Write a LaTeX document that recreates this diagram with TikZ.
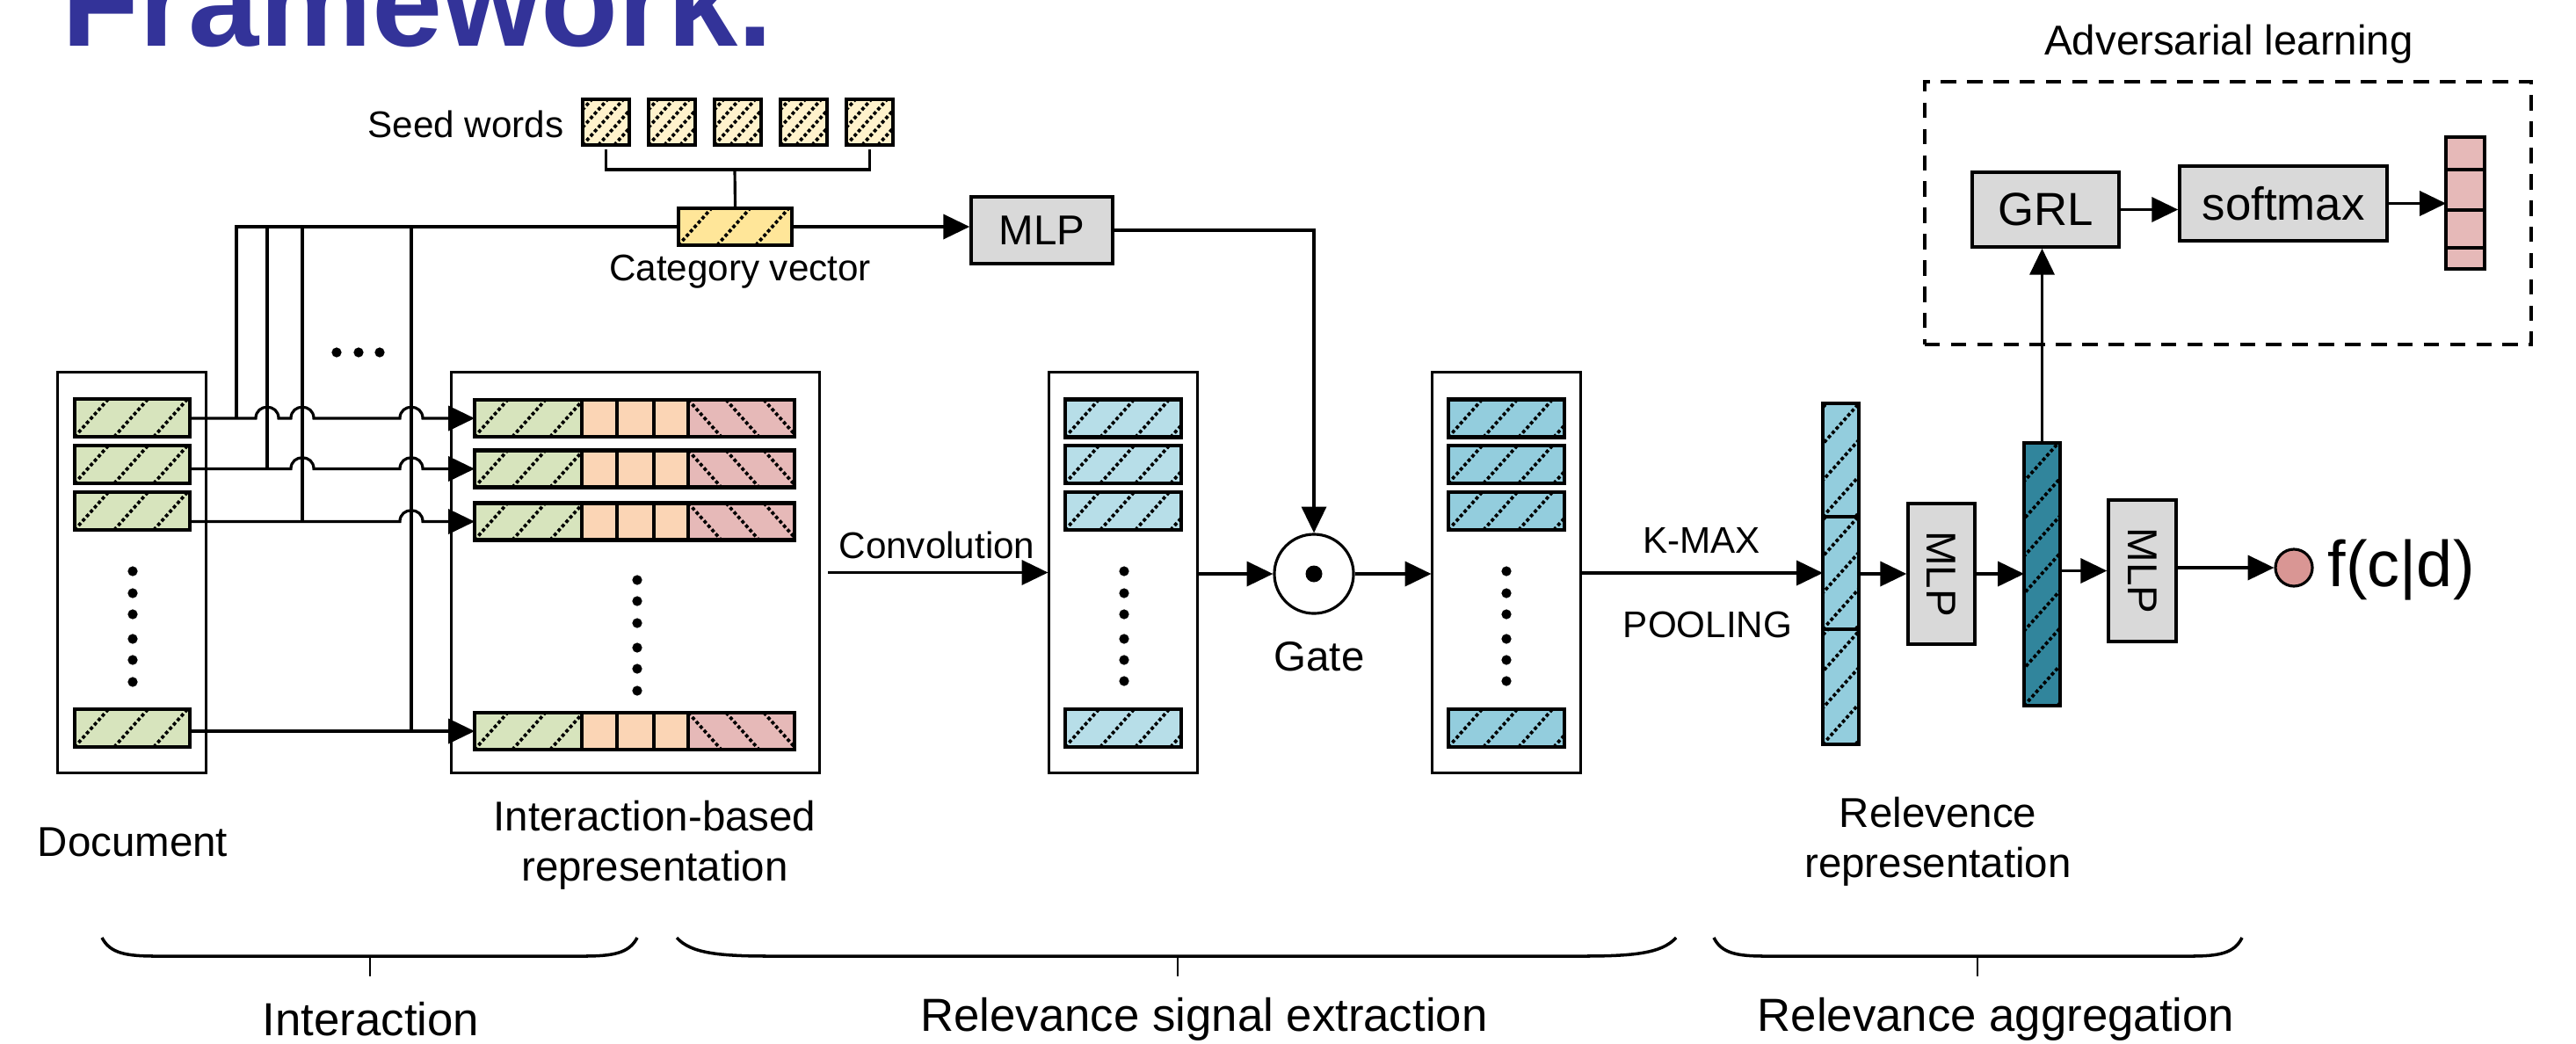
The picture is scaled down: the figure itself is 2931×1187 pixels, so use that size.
\documentclass[tikz,border=0pt]{standalone}
\usepackage{fontspec}
\setmainfont{Liberation Sans}
\usepackage{tikz}
\usetikzlibrary{arrows.meta,positioning}
\definecolor{titleblue}{HTML}{333399}
\definecolor{docgreen}{HTML}{D7E4BD}
\definecolor{cellorange}{HTML}{FBD5B5}
\definecolor{cellpink}{HTML}{E6B9B8}
\definecolor{seedyellow}{HTML}{FFF2CC}
\definecolor{catyellow}{HTML}{FFE699}
\definecolor{convblue}{HTML}{B7DEE8}
\definecolor{gateblue}{HTML}{93CDDD}
\definecolor{deepteal}{HTML}{31859C}
\definecolor{boxgrey}{HTML}{D9D9D9}
\definecolor{scorered}{HTML}{D99694}
\tikzset{
  conn/.style={draw,line width=.9pt},
  arr/.style={conn,-{Triangle[length=8.5pt,width=8pt]}},
  panel/.style={draw,line width=.85pt,fill=white,inner sep=0pt,minimum width=1.68cm,minimum height=4.55cm},
  cell/.style={draw,line width=1.25pt,inner sep=0pt,outer sep=0pt},
  hatchline/.style={line width=1.05pt,dash pattern=on 1.1pt off .8pt},
  hatch/.style={path picture={
    \foreach \k in {-12,...,14}
      \draw[hatchline] ([shift={(\k*#1,0)}]path picture bounding box.south west) -- ++(500,-560);}},
  backhatch/.style={path picture={
    \foreach \k in {-12,...,14}
      \draw[hatchline] ([shift={(\k*#1,0)}]path picture bounding box.north west) -- ++(500,560);}},
  greybox/.style={draw,fill=boxgrey,line width=1pt,inner sep=0pt},
  lbl/.style={font=\fontsize{13.5}{16.2}\selectfont,align=center,inner sep=0pt},
  small/.style={font=\fontsize{12}{14}\selectfont,inner sep=0pt},
  part/.style={font=\fontsize{15}{18}\selectfont,inner sep=0pt},
  brace/.style={draw,line width=1pt}
}

\begin{document}
\begin{tikzpicture}[x=.01cm,y=-.01cm]
  \useasboundingbox (0,0) rectangle (2931,1187);
  \node[anchor=base west,inner sep=0pt,text=titleblue,font=\fontsize{41}{41}\selectfont\bfseries] (title) at (70,52) {Framework.};

  % seed words and category vector
  \foreach \i in {1,...,5}
    \node[cell,fill=seedyellow,hatch=18,minimum width=.53cm,minimum height=.52cm] (sw\i) at (614.5+75*\i,139) {};
  \node[small,anchor=east] (seedlbl) at (642,141) {Seed words};
  \node[cell,fill=catyellow,hatch=44,minimum width=1.29cm,minimum height=.42cm] (cat) at (836.5,258) {};
  \node[small] (catlbl) at (842,309) {Category vector};
  \coordinate (brk) at (836,193);
  \draw[conn] ([yshift=-1.5pt]sw1.south) |- (brk) -| ([yshift=-1.5pt]sw5.south);
  \draw[conn] (brk) -- (cat.north);
  \node[greybox,minimum width=1.61cm,minimum height=.76cm,font=\fontsize{13.5}{16}\selectfont] (mlpA) at (1185.5,262) {MLP};
  \draw[arr] (cat.east) -- (cat.east -| mlpA.west);

  % document
  \node[panel] (doc) at (150,651.5) {};
  \foreach \n/\y in {1/475.5,2/528.5,3/581.5,4/828.5}
    \node[cell,fill=docgreen,hatch=45,minimum width=1.31cm,minimum height=.43cm] (drow\n) at (150.5,\y) {};
  \foreach \y in {650,675,699,727,751,776}
    \fill (151,\y) circle[radius=1.6pt];
  \node[lbl] (doclbl) at (151,958) {Document};

  % interaction-based representation
  \node[panel,minimum width=4.18cm] (ibox) at (723,651.5) {};
  \foreach \n/\y in {1/476,2/533.5,3/593.5,4/832}{
    \node[cell,fill=docgreen,hatch=43,minimum width=1.22cm,minimum height=.42cm,anchor=west] (ig\n) at (540,\y) {};
    \node[cell,fill=cellorange,minimum width=.40cm,minimum height=.42cm,right=0pt of ig\n] (ia\n) {};
    \node[cell,fill=cellorange,minimum width=.42cm,minimum height=.42cm,right=0pt of ia\n] (ib\n) {};
    \node[cell,fill=cellorange,minimum width=.39cm,minimum height=.42cm,right=0pt of ib\n] (ic\n) {};
    \node[cell,fill=cellpink,backhatch=43,minimum width=1.21cm,minimum height=.42cm,right=0pt of ic\n] (ip\n) {};
  }
  \foreach \y in {660,684,709,737,761,786}
    \fill (725,\y) circle[radius=1.6pt];
  \node[lbl] (ilbl) at (745,962) {Interaction-based\\representation};

  % category vector fed to every word
  \coordinate (tap1) at (269,258);
  \coordinate (tap2) at (304,258);
  \coordinate (tap3) at (344,258);
  \coordinate (tap4) at (468,258);
  \draw[conn] (cat.west) -- (tap1) -- (tap1 |- ig1.west);
  \draw[conn] (tap2) -- (tap2 |- ig2.west);
  \draw[conn] (tap3) -- (tap3 |- ig3.west);
  \draw[conn] (tap4) -- (tap4 |- ig4.west);
  \foreach \x in {383,408,432}
    \fill (\x,401) circle[radius=1.6pt];
  \draw[arr] (drow1.east |- ig1.west) -- (291,476) .. controls (291,459) and (317,459) .. (317,476)
    -- (331,476) .. controls (331,459) and (357,459) .. (357,476)
    -- (455,476) .. controls (455,459) and (481,459) .. (481,476) -- (ig1.west);
  \draw[arr] (drow2.east |- ig2.west) -- (331,533.5) .. controls (331,516.5) and (357,516.5) .. (357,533.5)
    -- (455,533.5) .. controls (455,516.5) and (481,516.5) .. (481,533.5) -- (ig2.west);
  \draw[arr] (drow3.east |- ig3.west) -- (455,593.5) .. controls (455,576.5) and (481,576.5) .. (481,593.5) -- (ig3.west);
  \draw[arr] (drow4.east |- ig4.west) -- (ig4.west);

  % convolution and gate
  \node[panel] (conv) at (1278,651.5) {};
  \node[panel] (gbox) at (1714,651.5) {};
  \foreach \n/\y in {1/476,2/528.5,3/581.5,4/828.5}{
    \node[cell,fill=convblue,hatch=40,minimum width=1.32cm,minimum height=.43cm] (crow\n) at (1278,\y) {};
    \node[cell,fill=gateblue,hatch=40,minimum width=1.32cm,minimum height=.43cm] (grow\n) at (1714,\y) {};
  }
  \foreach \y in {650,675,699,727,751,775}{
    \fill (1279,\y) circle[radius=1.6pt];
    \fill (1714,\y) circle[radius=1.6pt];
  }
  \draw[arr] ([xshift=2.5pt]ibox.east) -- (conv.west);
  \node[small] (convlbl) at (1066,620) {Convolution};
  \node[circle,draw,line width=.9pt,minimum size=.9cm,inner sep=0pt] (gate) at (1495,653) {};
  \fill (gate.center) circle[radius=2.7pt];
  \node[lbl] (gatelbl) at (1501,747) {Gate};
  \draw[arr] (conv.east |- gate.west) -- (gate.west);
  \draw[arr] (gate.east) -- (gate.east -| gbox.west);
  \draw[arr] (mlpA.east) -| (gate.north);

  % relevance aggregation
  \node[cell,fill=gateblue,hatch=37,minimum width=.41cm,minimum height=1.29cm] (pool1) at (2094.5,523.5) {};
  \node[cell,fill=gateblue,hatch=37,minimum width=.41cm,minimum height=1.28cm] (pool2) at (2094.5,652) {};
  \node[cell,fill=gateblue,hatch=37,minimum width=.41cm,minimum height=1.31cm] (pool3) at (2094.5,781.5) {};
  \draw[arr] (gbox.east |- pool2.west) -- (pool2.west);
  \node[small] (kmax) at (1936,615) {K-MAX};
  \node[small] (pooling) at (1943,711) {POOLING};
  \node[greybox,minimum width=.76cm,minimum height=1.6cm,font=\fontsize{13.5}{16}\selectfont] (mlpB) at (2209,653) {\rotatebox{-90}{MLP}};
  \node[cell,fill=deepteal,hatch=38,minimum width=.41cm,minimum height=2.99cm] (dark) at (2323.5,653.5) {};
  \node[greybox,minimum width=.77cm,minimum height=1.61cm,font=\fontsize{13.5}{16}\selectfont] (mlpC) at (2437.5,649.5) {\rotatebox{-90}{MLP}};
  \node[circle,draw,fill=scorered,line width=.9pt,minimum size=.42cm,inner sep=0pt] (score) at (2610,646) {};
  \node[anchor=west,inner sep=0pt,font=\fontsize{21}{24}\selectfont] (fcd) at (2648,649) {f(c|d)};
  \draw[arr] (pool2.east |- mlpB.west) -- (mlpB.west);
  \draw[arr] (mlpB.east) -- (mlpB.east -| dark.west);
  \draw[arr] (dark.east |- mlpC.west) -- (mlpC.west);
  \draw[arr] (mlpC.east |- score.west) -- (score.west);
  \node[lbl] (rellbl) at (2205,958) {Relevence\\representation};

  % adversarial learning
  \node[draw,line width=1.15pt,dash pattern=on 5pt off 3.5pt,minimum width=6.9cm,minimum height=2.99cm,inner sep=0pt] (adv) at (2535,242.5) {};
  \node[lbl] (advlbl) at (2536,50) {Adversarial learning};
  \node[greybox,minimum width=1.67cm,minimum height=.85cm,font=\fontsize{15}{18}\selectfont] (grl) at (2327.5,238.5) {GRL};
  \node[greybox,minimum width=2.36cm,minimum height=.85cm,font=\fontsize{15}{18}\selectfont] (smax) at (2598,231.5) {softmax};
  \foreach \n/\y/\h in {1/174.5/.37,2/216/.46,3/260.5/.43,4/294/.24}
    \node[cell,fill=cellpink,minimum width=.44cm,minimum height=\h cm] (oc\n) at (2805,\y) {};
  \draw[arr] (dark.north) -- (dark.north |- grl.south);
  \draw[arr] (grl.east) -- (grl.east -| smax.west);
  \draw[arr] (smax.east) -- (smax.east -| oc2.west);

  % stages
  \foreach \a/\b/\c/\m in {116/725/62/421,770/1907/108/1340,1950/2551/59/2250}{
    \draw[brace] (\a,1067) .. controls (\a+0.15*\c,1085) and (\a+0.45*\c,1088) .. (\a+\c,1088)
      -- (\b-\c,1088) .. controls (\b-0.45*\c,1088) and (\b-0.15*\c,1085) .. (\b,1067);
    \draw[line width=.5pt] (\m,1088) -- (\m,1111);
  }
  \node[part] (stage1) at (422,1160) {Interaction};
  \node[part] (stage2) at (1370,1160) {Relevance signal extraction};
  \node[part] (stage3) at (2271,1160) {Relevance aggregation};
\end{tikzpicture}
\end{document}
